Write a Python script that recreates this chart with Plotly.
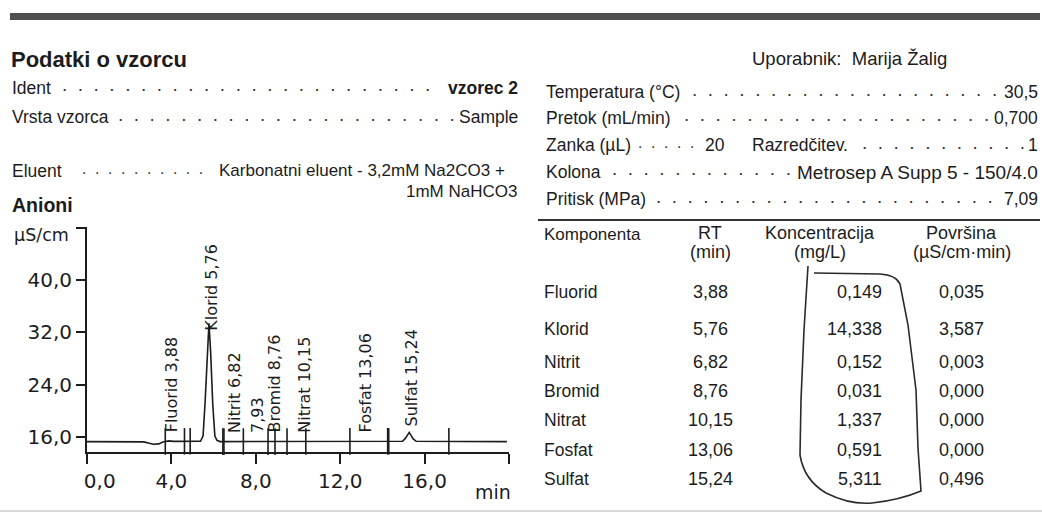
import numpy as np
import plotly.graph_objects as go

# ---------------- data ----------------
time_min = [0.0, 2.3, 2.7, 2.95, 3.15, 3.4, 3.6, 3.88, 4.1, 5.38, 5.5, 5.6, 5.7, 5.78,
            5.86, 5.96, 6.06, 6.16, 6.3, 8.76, 10.15, 13.06, 14.95, 15.08, 15.27, 15.45,
            15.6, 19.9]
signal_uScm = [15.35, 15.35, 15.3, 15.1, 14.95, 15.0, 15.3, 15.45, 15.38, 15.4, 16.2, 21.5,
               29.5, 33.4, 29.0, 21.0, 16.2, 15.55, 15.35, 15.35, 15.35, 15.38, 15.4, 15.8,
               16.75, 15.8, 15.4, 15.35]

peak_rt = [3.88, 5.76, 6.82, 7.93, 8.76, 10.15, 13.06, 15.24]
peak_label = ["Fluorid 3,88", "Klorid 5,76", "Nitrit 6,82", "7,93", "Bromid 8,76",
              "Nitrat 10,15", "Fosfat 13,06", "Sulfat 15,24"]

integration_marks = [3.71, 4.62, 4.89, 6.44, 6.49, 7.41, 8.58, 8.91, 9.48, 10.37,
                     12.46, 14.25, 14.3, 17.15]

components = ["Fluorid", "Klorid", "Nitrit", "Bromid", "Nitrat", "Fosfat", "Sulfat"]
rt_text = ["3,88", "5,76", "6,82", "8,76", "10,15", "13,06", "15,24"]
conc_text = ["0,149", "14,338", "0,152", "0,031", "1,337", "0,591", "5,311"]
area_text = ["0,035", "3,587", "0,003", "0,000", "0,000", "0,000", "0,496"]

x_ticks = [0, 4, 8, 12, 16, 20]
x_tick_labels = ["\u00a0\u00a0\u00a0\u00a00,0", "4,0", "8,0", "12,0", "16,0", ""]
y_ticks = [16, 24, 32, 40, 48]
y_tick_labels = ["16,0", "24,0", "32,0", "40,0", ""]

# ---------------- layout helpers ----------------
W, H = 1042, 515
ML, MR, MT, MB = 87, 533, 227, 63
PW = W - ML - MR
PH = H - MT - MB


def px(x):
    return (x - ML) / PW


def py(y):
    return (H - MB - y) / PH


INK = "#1c1c1c"
DOC_FONT = "Liberation Sans, Arial, sans-serif"
CH_FONT = "DejaVu Sans, Verdana, sans-serif"
NB = "\u00a0"

fig = go.Figure()

fig.add_trace(go.Scatter(x=time_min, y=signal_uScm, mode="lines",
                         line=dict(color=INK, width=1.6), hoverinfo="skip",
                         showlegend=False, cliponaxis=False))

base_at_marks = np.interp(integration_marks, time_min, signal_uScm)
fig.add_trace(go.Scatter(x=integration_marks, y=base_at_marks, mode="markers",
                         marker=dict(symbol="line-ns", size=19,
                                     line=dict(color=INK, width=1.6)),
                         hoverinfo="skip", showlegend=False, cliponaxis=False))

annotations = []

# peak labels
label_yshift = [7, -3, 7, 7, 7, 7, 7, 5]
peak_y = np.interp(peak_rt, time_min, signal_uScm)
for rt, lab, yv, ys in zip(peak_rt, peak_label, peak_y, label_yshift):
    annotations.append(dict(x=rt, y=yv, xref="x", yref="y", text=lab, textangle=-90,
                            showarrow=False, xanchor="center", yanchor="bottom",
                            xshift=3, yshift=ys,
                            font=dict(family=CH_FONT, size=16, color=INK)))


def txt(x, y, s, size=17.5, anchor="left", bold=False, family=DOC_FONT, color=INK):
    if bold:
        s = "<b>" + s + "</b>"
    annotations.append(dict(x=px(x), y=py(y), xref="paper", yref="paper", text=s,
                            showarrow=False, xanchor=anchor, yanchor="middle",
                            font=dict(family=family, size=size, color=color)))


def leader(x0, x1, y, step=15.8, color="#333"):
    size = step / (3 * 0.278)
    n = int((x1 - x0) / step) + 1
    s = (NB + NB).join(["."] * n)
    annotations.append(dict(x=px(x0), y=py(y - 3), xref="paper", yref="paper",
                            text=s, showarrow=False,
                            xanchor="left", yanchor="middle",
                            font=dict(family=DOC_FONT, size=size, color=color)))


# left block
txt(9, 59, "Podatki o vzorcu", size=22, bold=True)
txt(10, 88, "Ident")
leader(60, 432, 88)
txt(520, 88, "vzorec 2", anchor="right", bold=True)
txt(10, 117, "Vrsta vzorca")
leader(116, 448, 117)
txt(520, 117, "Sample", anchor="right")
txt(10, 171, "Eluent")
leader(80, 200, 171, step=13)
txt(507, 170, "Karbonatni eluent - 3,2mM Na2CO3 +", anchor="right", size=17)
txt(519, 191, "1mM NaHCO3", anchor="right", size=17)
txt(10, 205, "Anioni", size=19.5, bold=True)

# right block
txt(750, 58, "Uporabnik:" + NB + NB + "Marija Žalig", size=18.5)
txt(544, 92, "Temperatura (°C)")
leader(690, 1000, 92)
txt(1040, 92, "30,5", anchor="right")
txt(544, 118, "Pretok (mL/min)")
leader(682, 990, 118)
txt(1040, 118, "0,700", anchor="right")
txt(544, 145, "Zanka (µL)")
leader(636, 694, 145, step=13)
txt(703, 145, "20")
txt(750, 145, "Razredčitev.")
leader(860, 1026, 145)
txt(1040, 145, "1", anchor="right")
txt(544, 172, "Kolona")
leader(610, 785, 172)
txt(1040, 172, "Metrosep A Supp 5 - 150/4.0", anchor="right", size=19)
txt(544, 199, "Pritisk (MPa)")
leader(654, 998, 199)
txt(1040, 199, "7,09", anchor="right")

# table
TS = 18
txt(542, 234, "Komponenta", size=17)
txt(710, 233, "RT", size=TS, anchor="center")
txt(710, 252, "(min)", size=TS, anchor="center")
txt(820, 233, "Koncentracija", size=TS, anchor="center")
txt(820, 252, "(mg/L)", size=TS, anchor="center")
txt(962, 233, "Površina", size=TS, anchor="center")
txt(962, 252, "(µS/cm·min)", size=TS, anchor="center")
row_y = [292, 329, 362, 391, 420, 450, 479]
for yy, c, r, k, a in zip(row_y, components, rt_text, conc_text, area_text):
    txt(542, yy, c, size=17.5)
    txt(710, yy, r, size=TS, anchor="center")
    txt(884, yy, k, size=TS, anchor="right")
    txt(962, yy, a, size=TS, anchor="center")

# chart texts
txt(12, 235, "µS/cm", size=17.5, family=CH_FONT)
txt(473, 492, "min", size=19, family=CH_FONT)

shapes = []
# top scan bar
shapes.append(dict(type="rect", xref="paper", yref="paper", x0=px(10), x1=px(1040),
                   y0=py(20), y1=py(13), fillcolor="#3c3c3c", line=dict(width=0),
                   opacity=0.9))
# table rule
shapes.append(dict(type="line", xref="paper", yref="paper", x0=px(538), x1=px(1040),
                   y0=py(220), y1=py(220), line=dict(color="#333", width=2)))
# bottom faint rule
shapes.append(dict(type="line", xref="paper", yref="paper", x0=px(0), x1=px(1042),
                   y0=py(511), y1=py(511), line=dict(color="#d8d8d8", width=2)))

# hand-drawn loop around concentrations
loop_pts = [("M", 808, 266), ("L", 804, 330), ("L", 801, 400), ("L", 800, 455),
            ("Q", 804, 480, 826, 493), ("Q", 850, 505, 872, 503),
            ("Q", 900, 500, 921, 491), ("L", 918, 448), ("L", 916, 390),
            ("L", 908, 325), ("L", 900, 284), ("Q", 896, 275, 880, 274), ("L", 814, 273)]
path = ""
for p in loop_pts:
    cmd = p[0]
    coords = p[1:]
    pairs = []
    for i in range(0, len(coords), 2):
        pairs.append(f"{px(coords[i]):.5f},{py(coords[i+1]):.5f}")
    path += cmd + " " + " ".join(pairs) + " "
shapes.append(dict(type="path", xref="paper", yref="paper", path=path.strip(),
                   line=dict(color="#2a2a2a", width=1.6)))

fig.update_layout(
    width=W, height=H,
    margin=dict(l=ML, r=MR, t=MT, b=MB, pad=0),
    paper_bgcolor="white", plot_bgcolor="white",
    showlegend=False,
    annotations=annotations,
    shapes=shapes,
    xaxis=dict(range=[0, 20], tickvals=x_ticks, ticktext=x_tick_labels,
               showgrid=False, zeroline=False, showline=True, linecolor=INK,
               linewidth=1.6, ticks="outside", ticklen=10, tickwidth=1.6,
               tickcolor=INK, tickfont=dict(family=CH_FONT, size=20, color=INK),
               fixedrange=True),
    yaxis=dict(range=[13.76, 48.09], tickvals=y_ticks, ticktext=y_tick_labels,
               showgrid=False, zeroline=False, showline=True, linecolor=INK,
               linewidth=2, ticks="outside", ticklen=9, tickwidth=1.6,
               tickcolor=INK, tickfont=dict(family=CH_FONT, size=20, color=INK),
               fixedrange=True),
)

fig.write_html("out.html", config={"displayModeBar": False},
               post_script="document.body.style.margin='0';document.body.style.overflow='hidden';")
